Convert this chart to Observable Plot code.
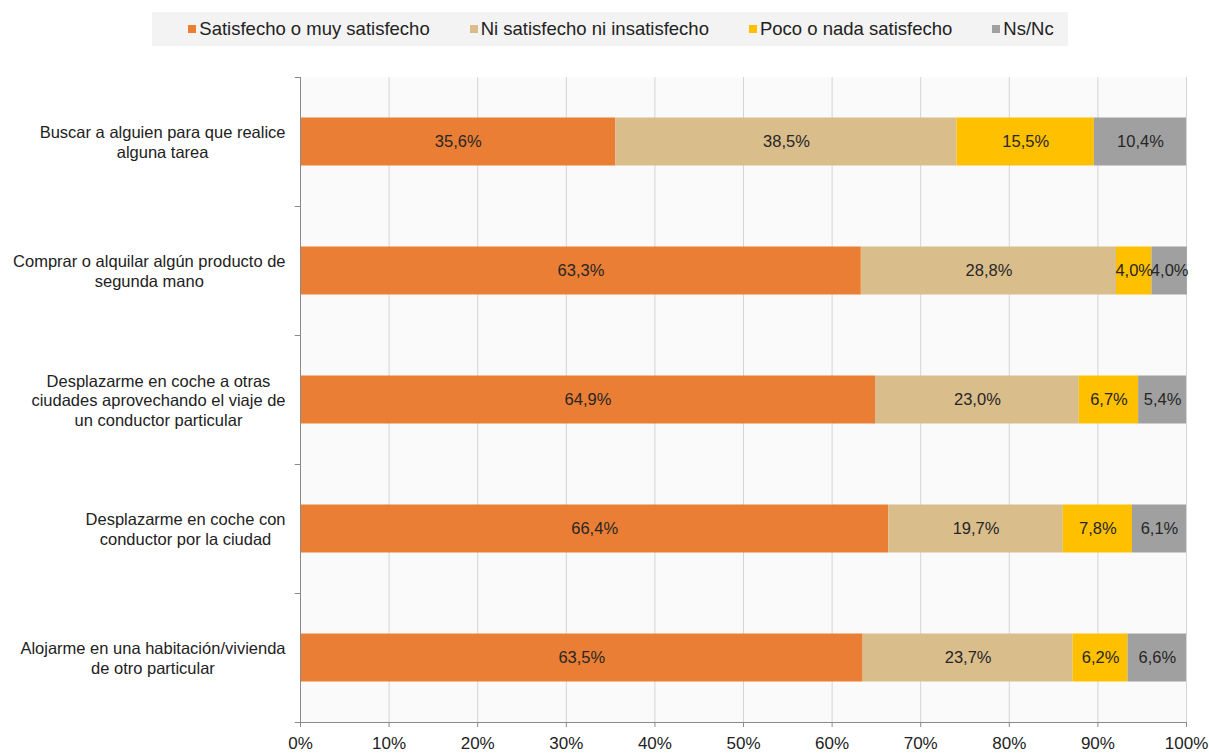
<!DOCTYPE html>
<html>
<head>
<meta charset="utf-8">
<script src="https://cdn.jsdelivr.net/npm/d3@7"></script>
<script src="https://cdn.jsdelivr.net/npm/@observablehq/plot@0.6"></script>
<style>
  html, body { margin: 0; padding: 0; background: #ffffff; }
  body { width: 1209px; font-family: "Liberation Sans", Arial, sans-serif; }
  #legend-wrap { height: 50px; position: relative; }
  #legend {
    position: absolute; left: 152px; top: 12px; width: 916px; height: 34px;
    box-sizing: border-box; padding-left: 22px;
    background: #f3f3f3; display: flex; align-items: center; justify-content: center;
    gap: 40px; font-size: 18.5px; color: #222;
  }
  .item { display: flex; align-items: center; gap: 3px; white-space: nowrap; }
  .sw { width: 8px; height: 8px; display: inline-block; }
  svg { display: block; }
</style>
</head>
<body>
<div id="legend-wrap"><div id="legend"></div></div>
<div id="chart"></div>
<script>
const categories = [
  "Buscar a alguien para que realice\nalguna tarea",
  "Comprar o alquilar algún producto de\nsegunda mano",
  "Desplazarme en coche a otras\nciudades aprovechando el viaje de\nun conductor particular",
  "Desplazarme en coche con\nconductor por la ciudad",
  "Alojarme en una habitación/vivienda\nde otro particular"
];
const series = [
  "Satisfecho o muy satisfecho",
  "Ni satisfecho ni insatisfecho",
  "Poco o nada satisfecho",
  "Ns/Nc"
];
const satisfecho = [35.6, 63.3, 64.9, 66.4, 63.5];
const niSatisfecho = [38.5, 28.8, 23.0, 19.7, 23.7];
const pocoSatisfecho = [15.5, 4.0, 6.7, 7.8, 6.2];
const nsnc = [10.4, 4.0, 5.4, 6.1, 6.6];
const colors = ["#EA7E34", "#D9BD8B", "#FFC000", "#A0A0A0"];
const xTicks = [0, 10, 20, 30, 40, 50, 60, 70, 80, 90, 100];

const seriesValues = [satisfecho, niSatisfecho, pocoSatisfecho, nsnc];
const data = [];
categories.forEach((c, i) => {
  series.forEach((s, j) => data.push({cat: c, series: s, value: seriesValues[j][i]}));
});

// legend
const legend = document.getElementById("legend");
series.forEach((s, j) => {
  const it = document.createElement("div");
  it.className = "item";
  it.innerHTML = `<span class="sw" style="background:${colors[j]}"></span><span>${s}</span>`;
  legend.appendChild(it);
});

const W = 1209, H = 704, mL = 300, mR = 23, mT = 27, mB = 32;
const labelFont = 16.5;
const bw = (H - mT - mB) / categories.length;
const fmt = v => v.toFixed(1).replace(".", ",") + "%";

// measure label widths to right-align the block while centering each line
const ctx = document.createElement("canvas").getContext("2d");
ctx.font = `${labelFont}px "Liberation Sans", Arial, sans-serif`;
const labelRight = 285;
const labelMarks = categories.map(c => {
  const w = Math.max(...c.split("\n").map(l => ctx.measureText(l).width));
  const center = labelRight - w / 2;
  return Plot.text([c], {
    y: d => d, text: d => d, frameAnchor: "left", dx: center - mL,
    textAnchor: "middle", lineHeight: 1.2, fontSize: labelFont, fill: "#222"
  });
});

const chart = Plot.plot({
  width: W, height: H,
  marginLeft: mL, marginRight: mR, marginTop: mT, marginBottom: mB,
  style: {fontFamily: '"Liberation Sans", Arial, sans-serif', background: "transparent"},
  x: {domain: [0, 100], axis: null, label: null},
  y: {domain: categories, padding: 0, axis: null, label: null},
  color: {domain: series, range: colors},
  marks: [
    Plot.frame({fill: "#fafafa", stroke: null}),
    Plot.gridX(xTicks.filter(v => v > 0), {stroke: "#d4d4d4", strokeOpacity: 1}),
    Plot.barX(data, Plot.stackX({x: "value", y: "cat", fill: "series", insetTop: 40.5, insetBottom: 40.5})),
    Plot.text(data, Plot.stackX({x: "value", y: "cat", z: "series", text: d => fmt(d.value), fontSize: 16.5, fill: "#262626"})),
    Plot.frame({anchor: "left", stroke: "#8a8a8a"}),
    Plot.frame({anchor: "bottom", stroke: "#8a8a8a"}),
    Plot.ruleY(categories, {y: d => d, dy: -bw / 2, x1: -0.6, x2: 0, stroke: "#8a8a8a"}),
    Plot.ruleY(categories.slice(-1), {y: d => d, dy: bw / 2, x1: -0.6, x2: 0, stroke: "#8a8a8a"}),
    Plot.axisX(xTicks, {anchor: "bottom", label: null, tickFormat: d => d + "%", tickSize: 5, tickPadding: 9, fontSize: 17, stroke: "#8a8a8a", fill: "#222"}),
    ...labelMarks
  ]
});
document.getElementById("chart").appendChild(chart);
</script>
</body>
</html>
